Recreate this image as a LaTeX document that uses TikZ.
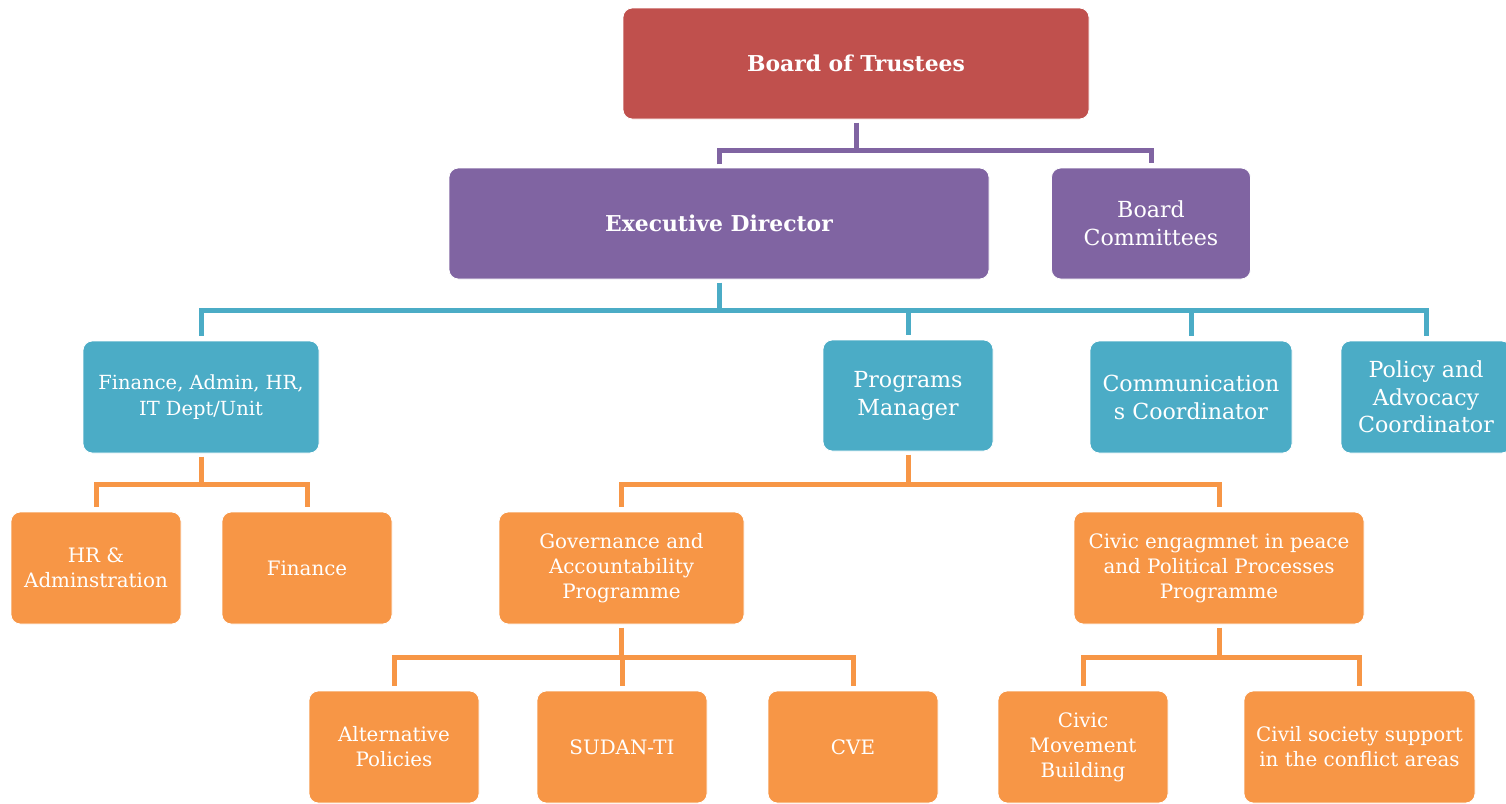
\documentclass[tikz,border=0pt]{standalone}
\usepackage{fontspec}
\setmainfont{DejaVu Serif}
\definecolor{trusteered}{HTML}{C0504D}
\definecolor{directorpurple}{HTML}{8064A2}
\definecolor{unitteal}{HTML}{4BACC6}
\definecolor{programorange}{HTML}{F79646}
\begin{document}
\begin{tikzpicture}[x=0.75pt, y=-0.75pt,
  box/.style={rectangle, rounded corners=7pt, draw=white, line width=0.6pt,
    text=white, align=center, inner sep=0pt},
  dims/.style 2 args={minimum width=#1*0.75pt, minimum height=#2*0.75pt},
  boldtxt/.style={font=\fontsize{16.4}{20}\selectfont\bfseries},
  tealtxt/.style={font=\fontsize{16.6}{21}\selectfont},
  orangetxt/.style={font=\fontsize{14.9}{18.8}\selectfont},
  link/.style={line width=3.75pt, line join=miter, shorten <=2.5pt, shorten >=3.5pt},
  redbox/.style={box, fill=trusteered},
  purplebox/.style={box, fill=directorpurple},
  tealbox/.style={box, fill=unitteal},
  orangebox/.style={box, fill=programorange}
]
\useasboundingbox (0,0) rectangle (1506,803);
\clip (0,0) rectangle (1506,803);

% level 0 and 1
\node[redbox, dims={466}{111}, boldtxt] (trustees) at (856,63.5) {Board of Trustees};
\node[purplebox, dims={540}{111}, boldtxt] (exec) at (719,223.5) {Executive Director};
\node[purplebox, dims={199}{111}, tealtxt] (committees) at (1151,223.5) {Board\\Committees};

% departments and coordinators
\node[tealbox, dims={236}{112}, font=\fontsize{14.6}{19.5}\selectfont] (fin) at (201,397) {Finance, Admin, HR,\\IT Dept/Unit};
\node[tealbox, dims={170}{111}, tealtxt] (prog) at (908,395.5) {Programs\\Manager};
\node[tealbox, dims={202}{112}, tealtxt] (comm) at (1191,397) {Communication\\s Coordinator};
\node[tealbox, dims={170}{112}, font=\fontsize{16.6}{20.6}\selectfont] (policy) at (1426,397) {Policy and\\Advocacy\\Coordinator};

% units under finance
\node[orangebox, dims={170}{112}, orangetxt] (hr) at (96,568) {HR \&\\Adminstration};
\node[orangebox, dims={170}{112}, orangetxt] (finance) at (307,568) {Finance};

% programmes
\node[orangebox, dims={245}{112}, orangetxt] (gov) at (621.5,568) {Governance and\\Accountability\\Programme};
\node[orangebox, dims={290}{112}, orangetxt] (civic) at (1219,568) {Civic engagmnet in peace\\and Political Processes\\Programme};

% projects
\node[orangebox, dims={170}{112}, orangetxt] (alt) at (394,747) {Alternative\\Policies};
\node[orangebox, dims={170}{112}, orangetxt] (sudan) at (622,747) {SUDAN-TI};
\node[orangebox, dims={170}{112}, orangetxt] (cve) at (853,747) {CVE};
\node[orangebox, dims={170}{112}, orangetxt] (cmb) at (1083,747) {Civic\\Movement\\Building};
\node[orangebox, dims={231}{112}, orangetxt] (civil) at (1359.5,747) {Civil society support\\in the conflict areas};

% bus levels
\coordinate (busA) at (0,150);
\coordinate (busB) at (0,310);
\coordinate (busC) at (0,484);
\coordinate (busD) at (0,657);

% trustees -> executive director, committees
\draw[link, directorpurple, shorten >=0pt] (trustees.south) -- (trustees.south |- busA);
\draw[link, directorpurple] (exec.north) |- (committees.north |- busA) -- (committees.north);
\draw[link, directorpurple, shorten >=0pt, shorten <=3.5pt] (exec.north) -- (exec.north |- busA);

% executive director -> departments
\draw[link, unitteal, shorten >=0pt] (exec.south) -- (exec.south |- busB);
\draw[link, unitteal, shorten <=3.5pt] (fin.north) |- (policy.north |- busB) -- (policy.north);
\draw[link, unitteal, shorten <=0pt] (prog.north |- busB) -- (prog.north);
\draw[link, unitteal, shorten <=0pt] (comm.north |- busB) -- (comm.north);

% finance dept -> units
\draw[link, programorange, shorten >=0pt] (fin.south) -- (fin.south |- busC);
\draw[link, programorange, shorten <=3.5pt] (hr.north) |- (finance.north |- busC) -- (finance.north);

% programs manager -> programmes
\draw[link, programorange, shorten >=0pt] (prog.south) -- (prog.south |- busC);
\draw[link, programorange, shorten <=3.5pt] (gov.north) |- (civic.north |- busC) -- (civic.north);

% governance programme -> projects
\draw[link, programorange, shorten >=0pt] (gov.south) -- (gov.south |- busD);
\draw[link, programorange, shorten <=3.5pt] (alt.north) |- (cve.north |- busD) -- (cve.north);
\draw[link, programorange, shorten <=0pt] (sudan.north |- busD) -- (sudan.north);

% civic programme -> projects
\draw[link, programorange, shorten >=0pt] (civic.south) -- (civic.south |- busD);
\draw[link, programorange, shorten <=3.5pt] (cmb.north) |- (civil.north |- busD) -- (civil.north);
\end{tikzpicture}
\end{document}
